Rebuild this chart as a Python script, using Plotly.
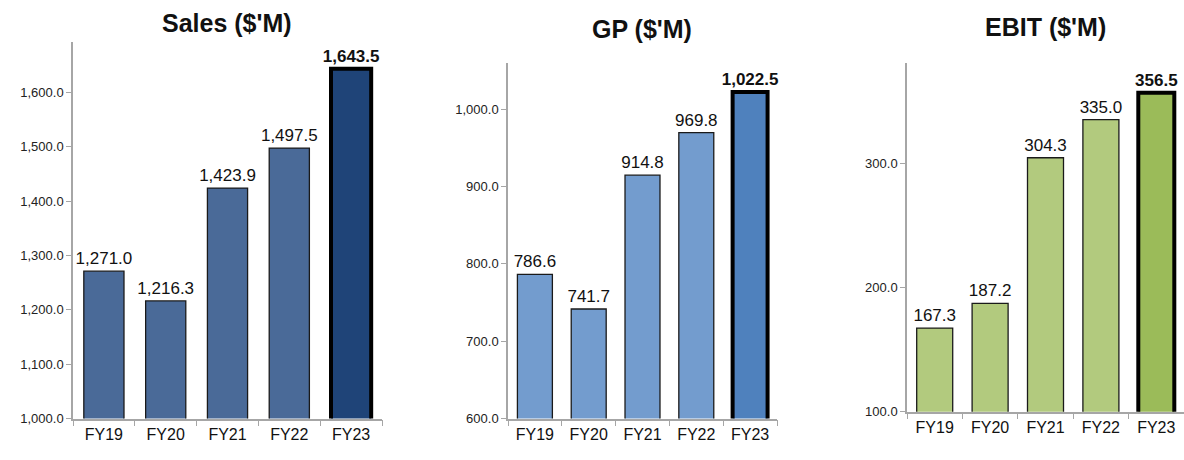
import plotly.graph_objects as go

years = ["FY19", "FY20", "FY21", "FY22", "FY23"]

sales = [1271.0, 1216.3, 1423.9, 1497.5, 1643.5]
gp = [786.6, 741.7, 914.8, 969.8, 1022.5]
ebit = [167.3, 187.2, 304.3, 335.0, 356.5]

sales_ticks = [1000, 1100, 1200, 1300, 1400, 1500, 1600]
gp_ticks = [600, 700, 800, 900, 1000]
ebit_ticks = [100, 200, 300]

W, H = 1184, 460
FONT = "Liberation Sans"

panels = [
    # title, values, ticks, range, base colour, highlight colour, x px, y px (top, bottom), title y px
    ("Sales ($'M)", sales, sales_ticks, [1000, 1692], "#4A6A98", "#1F4478", (73, 382), (43, 426), 23),
    ("GP ($'M)", gp, gp_ticks, [600, 1060], "#739CCE", "#4F81BD", (508, 777), (64, 426), 30),
    ("EBIT ($'M)", ebit, ebit_ticks, [100, 380.6], "#B2CA7E", "#9BBB59", (907, 1184), (64, 419), 27),
]

fig = go.Figure()
layout = {}

for i, (title, vals, ticks, rng, col, hcol, xpx, ypx, ty) in enumerate(panels):
    n = i + 1
    xa = "x" if n == 1 else f"x{n}"
    ya = "y" if n == 1 else f"y{n}"
    colors = [col] * (len(vals) - 1) + [hcol]
    widths = [1.3] * (len(vals) - 1) + [4]
    texts = [f"{v:,.1f}" for v in vals]
    texts[-1] = f"<b>{texts[-1]}</b>"
    fig.add_trace(go.Bar(
        x=years, y=vals, xaxis=xa, yaxis=ya,
        marker=dict(color=colors, line=dict(color=["#1a1a1a"] * (len(vals) - 1) + ["#000000"], width=widths)),
        text=texts, textposition="outside", cliponaxis=False, constraintext="none",
        textfont=dict(family=FONT, size=17, color="#111111"),
        showlegend=False,
    ))
    layout[f"xaxis{'' if n == 1 else n}"] = dict(
        domain=[xpx[0] / W, xpx[1] / W], anchor=ya,
        showline=True, linecolor="#A6A6A6", linewidth=1.5,
        ticks="outside", tickson="boundaries", ticklen=6, tickcolor="#A6A6A6",
        tickfont=dict(family=FONT, size=16, color="#111111"),
        showgrid=False, zeroline=False, fixedrange=True,
    )
    layout[f"yaxis{'' if n == 1 else n}"] = dict(
        domain=[(H - ypx[1]) / H, (H - ypx[0]) / H], anchor=xa,
        range=rng, tickvals=ticks, tickformat=",.1f",
        showline=True, linecolor="#A6A6A6", linewidth=1.5,
        ticks="outside", ticklen=5, tickcolor="#A6A6A6",
        tickfont=dict(family=FONT, size=13, color="#222222"),
        showgrid=False, zeroline=False, fixedrange=True,
    )
    fig.add_annotation(
        text=f"<b>{title}</b>", xref="paper", yref="paper",
        x=(xpx[0] + xpx[1]) / 2 / W, y=(H - ty) / H,
        xanchor="center", yanchor="middle", showarrow=False,
        font=dict(family=FONT, size=25, color="#111111"),
    )

fig.update_layout(
    width=W, height=H, margin=dict(l=0, r=0, t=0, b=0),
    paper_bgcolor="white", plot_bgcolor="white",
    bargap=0.35, **layout,
)

fig.write_html("out.html")
